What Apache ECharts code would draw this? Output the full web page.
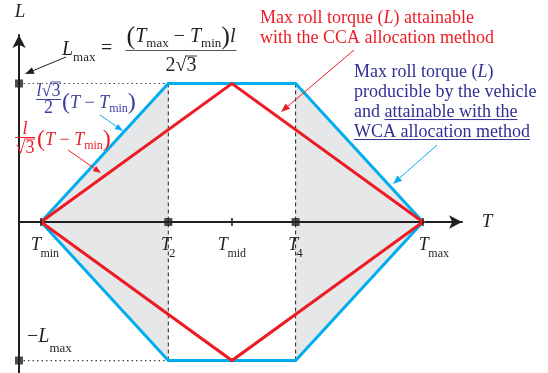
<!DOCTYPE html>
<html>
<head>
<meta charset="utf-8">
<script src="https://cdn.jsdelivr.net/npm/echarts@6/dist/echarts.min.js"></script>
<style>
  html, body { margin: 0; padding: 0; background: #ffffff; }
  #chart { width: 548px; height: 373px; }
</style>
</head>
<body>
<div id="chart"></div>
<script>
// Torque breakpoints along T (scaled so that T2 - Tmin = 1) and roll torque limit
const T_MIN = 1, T_2 = 2, T_MID = 2.5, T_4 = 3, T_MAX = 4;
const L_MAX = 1;

// Tick positions on the T axis and their subscripts
const tickValues = [T_MIN, T_2, T_MID, T_4, T_MAX];
const tickSubs = ['min', '2', 'mid', '4', 'max'];
const tickMarkValues = [T_MIN, T_MID, T_MAX];
const squareT = [T_2, T_4];

// Roll torque producible by the vehicle (WCA envelope)
const wcaT = [T_MIN, T_2, T_4, T_MAX, T_4, T_2, T_MIN];
const wcaL = [0, L_MAX, L_MAX, 0, -L_MAX, -L_MAX, 0];

// Roll torque attainable with CCA
const ccaT = [T_MIN, T_MID, T_MAX, T_MID, T_MIN];
const ccaL = [0, L_MAX, 0, -L_MAX, 0];

// Shaded regions outside [T2, T4]
const shadeLeftT = [T_MIN, T_2, T_2];
const shadeLeftL = [0, L_MAX, -L_MAX];
const shadeRightT = [T_MAX, T_4, T_4];
const shadeRightL = [0, L_MAX, -L_MAX];

// Axis extents
const X_LO = 0.8272, X_HI = 4.291;
const Y_LO = -1.090, Y_HI = 1.343;

const INK = '#231f20';
const BLUE_LINE = '#00aeef';
const RED = '#ed1c24';
const NAVY = '#2e3192';
const MATH_BLUE = '#3a3f9c';
const GREY = '#e6e7e8';

const zip = (a, b) => a.map((v, i) => [v, b[i]]);

const chart = echarts.init(document.getElementById('chart'), null, { renderer: 'canvas' });

const shapes = [zip(shadeLeftT, shadeLeftL), zip(shadeRightT, shadeRightL)];

chart.setOption({
  animation: false,
  backgroundColor: '#ffffff',
  grid: { left: 19, right: 86, top: 35, bottom: 0, containLabel: false },
  xAxis: {
    type: 'value', min: X_LO, max: X_HI + 0.016, z: 1,
    axisLine: { onZero: true, symbol: ['none', 'arrow'], symbolSize: [10, 13],
      lineStyle: { color: INK, width: 2 } },
    axisTick: { show: false }, axisLabel: { show: false }, splitLine: { show: false }
  },
  yAxis: {
    type: 'value', min: Y_LO, max: Y_HI + 0.007, z: 1,
    axisLine: { onZero: false, symbol: ['none', 'arrow'], symbolSize: [10, 13],
      lineStyle: { color: INK, width: 2 } },
    axisTick: { show: false }, axisLabel: { show: false }, splitLine: { show: false }
  },
  series: [
    {
      type: 'custom', z: 0,
      data: [[T_MIN, 0], [T_MAX, 0]],
      renderItem: function (params, api) {
        const pts = shapes[params.dataIndex].map(p => api.coord(p));
        return { type: 'polygon', shape: { points: pts }, style: { fill: GREY } };
      }
    },
    { type: 'line', z: 2, symbol: 'none', data: [[T_2, L_MAX], [T_2, -L_MAX]],
      lineStyle: { color: INK, width: 1, type: [4, 3] } },
    { type: 'line', z: 2, symbol: 'none', data: [[T_4, L_MAX], [T_4, -L_MAX]],
      lineStyle: { color: INK, width: 1, type: [4, 3] } },
    { type: 'line', z: 2, symbol: 'none', data: [[X_LO, L_MAX], [T_2, L_MAX]],
      lineStyle: { color: '#444', width: 1.2, type: [1.5, 3] } },
    { type: 'line', z: 2, symbol: 'none', data: [[X_LO, -L_MAX], [T_2, -L_MAX]],
      lineStyle: { color: '#444', width: 1.2, type: [1.5, 3] } },
    { type: 'line', z: 3, symbol: 'none', data: zip(wcaT, wcaL),
      lineStyle: { color: BLUE_LINE, width: 3, join: 'miter', miterLimit: 20 } },
    { type: 'line', z: 4, symbol: 'none', data: zip(ccaT, ccaL),
      lineStyle: { color: RED, width: 3, join: 'miter', miterLimit: 20 } },
    { type: 'scatter', z: 10, symbol: 'rect', symbolSize: [2, 8],
      itemStyle: { color: INK }, data: tickMarkValues.map(v => [v, 0]) },
    { type: 'scatter', z: 10, symbol: 'rect', symbolSize: 8, itemStyle: { color: INK },
      data: squareT.map(v => [v, 0]).concat([[X_LO, L_MAX], [X_LO, -L_MAX]]) }
  ]
});

// ---- text and annotation helpers ----
const measureCtx = document.createElement('canvas').getContext('2d');
const SERIF = '"Liberation Serif", "Times New Roman", "DejaVu Serif", serif';
function fontStr(f, s) { return (f === 'i' ? 'italic ' : '') + s + 'px ' + SERIF; }
function measure(t, f, s) { measureCtx.font = fontStr(f, s); return measureCtx.measureText(t).width; }

// Lays out a row of text pieces; returns elements plus extent
function run(parts, x, y, color, align) {
  let w = 0;
  parts.forEach(p => { w += (p.gap || 0) + measure(p.t, p.f || 'r', p.s); });
  let cx = align === 'center' ? x - w / 2 : x;
  const left = cx;
  const els = [];
  parts.forEach(p => {
    cx += p.gap || 0;
    const pw = measure(p.t, p.f || 'r', p.s);
    els.push({
      type: 'text', silent: true, z: 20,
      style: { text: p.t, x: cx, y: y + (p.dy || 0), font: fontStr(p.f || 'r', p.s),
        fill: color, textAlign: 'left', textVerticalAlign: 'middle' }
    });
    if (p.over) {
      const oy = y - p.s * 0.5;
      els.push({ type: 'line', silent: true, z: 20,
        shape: { x1: cx - 0.5, y1: oy, x2: cx + pw + 0.5, y2: oy },
        style: { stroke: color, lineWidth: 0.9 } });
    }
    if (p.under) {
      const uy = y + p.s * 0.42;
      els.push({ type: 'line', silent: true, z: 20,
        shape: { x1: cx, y1: uy, x2: cx + pw, y2: uy },
        style: { stroke: color, lineWidth: 1 } });
    }
    cx += pw;
  });
  return { els: els, left: left, right: cx, width: w };
}

function hline(x1, x2, y, color, lw) {
  return { type: 'line', silent: true, z: 20, shape: { x1: x1, y1: y, x2: x2, y2: y },
    style: { stroke: color, lineWidth: lw || 1 } };
}

function arrow(x1, y1, x2, y2, color, len, wid, lw) {
  const a = Math.atan2(y2 - y1, x2 - x1);
  const bx = x2 - len * Math.cos(a), by = y2 - len * Math.sin(a);
  const nx = -Math.sin(a) * wid / 2, ny = Math.cos(a) * wid / 2;
  return [
    { type: 'line', silent: true, z: 20, shape: { x1: x1, y1: y1, x2: bx, y2: by },
      style: { stroke: color, lineWidth: lw } },
    { type: 'polygon', silent: true, z: 20,
      shape: { points: [[x2, y2], [bx + nx, by + ny], [bx - nx, by - ny]] },
      style: { fill: color } }
  ];
}

const G = [];
const add = r => { (r.els || r).forEach(e => G.push(e)); };

// axis names
add(run([{ t: 'L', f: 'i', s: 19 }], 20, 12, INK, 'center'));
add(run([{ t: 'T', f: 'i', s: 19 }], 487, 222, INK, 'center'));

// T axis tick labels placed from the axis scale
const labelShift = { min: 4, max: 11 };
tickValues.forEach((v, i) => {
  const p = chart.convertToPixel({ xAxisIndex: 0, yAxisIndex: 0 }, [v, 0]);
  const sub = tickSubs[i];
  const digit = /^[0-9]$/.test(sub);
  add(run([
    { t: 'T', f: 'i', s: 18 },
    { t: sub, f: 'r', s: digit ? 13 : 12, dy: 9, gap: digit ? -2 : -0.5 }
  ], p[0] + (labelShift[sub] || 0), p[1] + 23, INK, 'center'));
});

// L_max = (T_max - T_min) l / (2 sqrt 3)
add(run([{ t: 'L', f: 'i', s: 20 }, { t: 'max', s: 13, dy: 8 }], 62, 50, INK));
add(run([{ t: '=', s: 20 }], 101, 49, INK));
const num = run([
  { t: '(', s: 26 }, { t: 'T', f: 'i', s: 20 }, { t: 'max', s: 13, dy: 7 },
  { t: ' \u2212 ', s: 20 }, { t: 'T', f: 'i', s: 20 }, { t: 'min', s: 13, dy: 7 },
  { t: ')', s: 26 }, { t: 'l', f: 'i', s: 20 }
], 181, 37, INK, 'center');
add(num);
G.push(hline(num.left - 1, num.right + 1, 50.5, '#555', 1.1));
add(run([{ t: '2', s: 20 }, { t: '\u221A', s: 20 }, { t: '3', s: 20, over: true }], 181, 66, INK, 'center'));
add(arrow(66, 57, 25, 74, INK, 9, 7, 1));

// -L_max
add(run([{ t: '\u2212', s: 20 }, { t: 'L', f: 'i', s: 20 }, { t: 'max', s: 13, dy: 12 }], 27, 337, INK));

// blue slope: l sqrt3 / 2 (T - T_min)
add(run([{ t: 'l', f: 'i', s: 18 }, { t: '\u221A', s: 18 }, { t: '3', s: 18, over: true }], 48.5, 91, MATH_BLUE, 'center'));
G.push(hline(36, 61, 99.5, MATH_BLUE, 1));
add(run([{ t: '2', s: 18 }], 48.5, 108, MATH_BLUE, 'center'));
add(run([
  { t: '(', s: 24 }, { t: 'T', f: 'i', s: 18 }, { t: ' \u2212 ', s: 18 },
  { t: 'T', f: 'i', s: 18 }, { t: 'min', s: 12, dy: 6 }, { t: ')', s: 24 }
], 62, 103, MATH_BLUE));
add(arrow(100, 115, 123, 131, BLUE_LINE, 8, 6, 1));

// red slope: l / sqrt3 (T - T_min)
add(run([{ t: 'l', f: 'i', s: 18 }], 25, 129, RED, 'center'));
G.push(hline(15, 35, 137.5, RED, 1));
add(run([{ t: '\u221A', s: 18 }, { t: '3', s: 18, over: true }], 25, 148, RED, 'center'));
add(run([
  { t: '(', s: 24 }, { t: 'T', f: 'i', s: 18 }, { t: ' \u2212 ', s: 18 },
  { t: 'T', f: 'i', s: 18 }, { t: 'min', s: 12, dy: 6 }, { t: ')', s: 24 }
], 37, 140, RED));
add(arrow(68, 150, 101, 173, RED, 8, 6, 1));

// CCA annotation
add(run([{ t: 'Max roll torque (', s: 18 }, { t: 'L', f: 'i', s: 18 }, { t: ') attainable', s: 18 }], 260, 18, RED));
add(run([{ t: 'with the CCA allocation method', s: 18 }], 260, 38, RED));
add(arrow(354, 50, 281, 112, RED, 9, 7, 1));

// WCA annotation
add(run([{ t: 'Max roll torque (', s: 18 }, { t: 'L', f: 'i', s: 18 }, { t: ')', s: 18 }], 354, 72, NAVY));
add(run([{ t: 'producible by the vehicle', s: 18 }], 354, 92, NAVY));
add(run([{ t: 'and ', s: 18 }, { t: 'attainable with the', s: 18, under: true }], 354, 112, NAVY));
add(run([{ t: 'WCA allocation method', s: 18, under: true }], 354, 132, NAVY));
add(arrow(437, 145, 393, 184, BLUE_LINE, 9, 7, 1));

chart.setOption({ graphic: { elements: G } });
</script>
</body>
</html>
